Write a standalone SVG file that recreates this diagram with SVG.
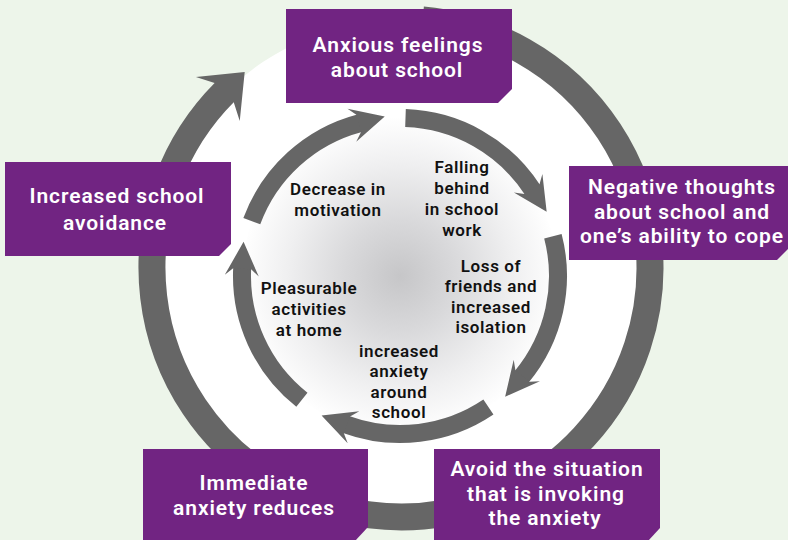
<svg xmlns="http://www.w3.org/2000/svg" width="788" height="540" viewBox="0 0 788 540">
  <defs>
    <radialGradient id="core" cx="400" cy="276" r="160" gradientUnits="userSpaceOnUse">
      <stop offset="0" stop-color="#c6c6c8"/>
      <stop offset="0.35" stop-color="#d9d9db"/>
      <stop offset="0.7" stop-color="#efeff0"/>
      <stop offset="1" stop-color="#ffffff"/>
    </radialGradient>
    <polygon id="headIn" points="26,0 -8,-17 -1,-9 -1,9 -8,17"/>
    <polygon id="headOut" points="28,0 -10,-31 -1,-13.5 -1,13.5 -10,31"/>
  </defs>
  <style>
    .box { fill: #712482; }
    .bt { font-family: Roboto, "Open Sans", "Liberation Sans", sans-serif; font-weight: 600; font-size: 21px; letter-spacing: 0.9px; fill: #ffffff; text-anchor: middle; }
    .it { font-family: Roboto, "Open Sans", "Liberation Sans", sans-serif; font-weight: 600; font-size: 17px; letter-spacing: 0.6px; fill: #111111; text-anchor: middle; }
    .ring { fill: none; stroke: #666666; }
    .outer { stroke-width: 27; }
    .inner { stroke-width: 18; }
    .head { fill: #666666; }
  </style>

  <rect x="0" y="0" width="788" height="540" fill="#edf5ea"/>
  <circle cx="401" cy="268" r="248" fill="#ffffff"/>
  <circle cx="400" cy="276" r="158" fill="url(#core)"/>

  <g id="connectors">
    <path class="ring outer" d="M422.7 19.9 A249 249 0 1 1 224.9 91.9"/>
    <use href="#headOut" class="head" transform="translate(224.9 91.9) rotate(-45)"/>

    <path class="ring inner" d="M405.5 118.1 A158 158 0 0 1 532.5 189.9"/>
    <use href="#headIn" class="head" transform="translate(532.5 189.9) rotate(57)"/>

    <path class="ring inner" d="M552.9 236.2 A158 158 0 0 1 521.7 376.7"/>
    <use href="#headIn" class="head" transform="translate(521.7 376.7) rotate(129.6)"/>

    <path class="ring inner" d="M488.4 407 A158 158 0 0 1 346 424.5"/>
    <use href="#headIn" class="head" transform="translate(346 424.5) rotate(200)"/>

    <path class="ring inner" d="M301.9 399.8 A158 158 0 0 1 242.2 267.7"/>
    <use href="#headIn" class="head" transform="translate(242.2 267.7) rotate(273)"/>

    <path class="ring inner" d="M251.8 221.2 A158 158 0 0 1 359.6 123.2"/>
    <use href="#headIn" class="head" transform="translate(359.6 123.2) rotate(345.2)"/>
  </g>

  <g id="anxious-feelings">
    <path class="box" d="M286 9 H512 V89 L498 103 H286 Z"/>
    <text class="bt" x="398" y="52">Anxious feelings</text>
    <text class="bt" x="397" y="77">about school</text>
  </g>

  <g id="negative-thoughts">
    <path class="box" d="M569 166 H790 V247 L777 260 H569 Z"/>
    <text class="bt" x="682" y="194">Negative thoughts</text>
    <text class="bt" x="682" y="219">about school and</text>
    <text class="bt" x="682" y="243">one’s ability to cope</text>
  </g>

  <g id="avoid-situation">
    <path class="box" d="M434 449 H660 V528 L648 541 H434 Z"/>
    <text class="bt" x="547" y="476">Avoid the situation</text>
    <text class="bt" x="546" y="501">that is invoking</text>
    <text class="bt" x="545" y="525">the anxiety</text>
  </g>

  <g id="immediate-relief">
    <path class="box" d="M143 449 H368 V527 L355 541 H143 Z"/>
    <text class="bt" x="254" y="490">Immediate</text>
    <text class="bt" x="254" y="515">anxiety reduces</text>
  </g>

  <g id="increased-avoidance">
    <path class="box" d="M5 162 H231 V244 L219 256 H5 Z"/>
    <text class="bt" x="117" y="203">Increased school</text>
    <text class="bt" x="115" y="230">avoidance</text>
  </g>

  <g id="falling-behind">
    <text class="it" x="462" y="173">Falling</text>
    <text class="it" x="462" y="194">behind</text>
    <text class="it" x="462" y="215">in school</text>
    <text class="it" x="462" y="236">work</text>
  </g>

  <g id="loss-of-friends">
    <text class="it" x="491" y="272">Loss of</text>
    <text class="it" x="491" y="292">friends and</text>
    <text class="it" x="491" y="313">increased</text>
    <text class="it" x="491" y="333">isolation</text>
  </g>

  <g id="increased-anxiety">
    <text class="it" x="399" y="357">increased</text>
    <text class="it" x="399" y="377">anxiety</text>
    <text class="it" x="399" y="398">around</text>
    <text class="it" x="399" y="418">school</text>
  </g>

  <g id="pleasurable-activities">
    <text class="it" x="309" y="294">Pleasurable</text>
    <text class="it" x="309" y="315">activities</text>
    <text class="it" x="309" y="336">at home</text>
  </g>

  <g id="decrease-motivation">
    <text class="it" x="338" y="195">Decrease in</text>
    <text class="it" x="338" y="216">motivation</text>
  </g>
</svg>
